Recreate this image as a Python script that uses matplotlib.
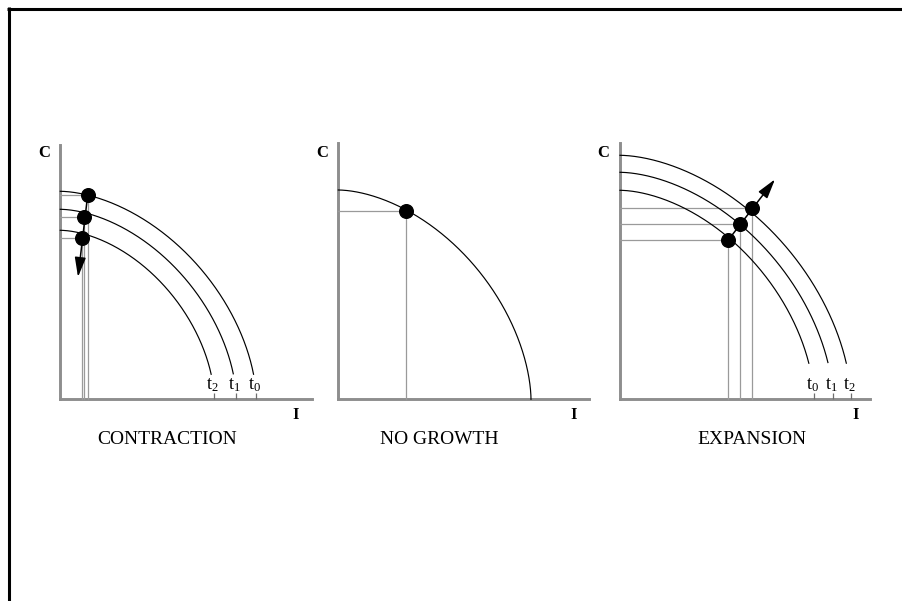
import numpy as np
import matplotlib
matplotlib.use("Agg")
import matplotlib.pyplot as plt
from matplotlib.lines import Line2D

plt.rcParams['font.family'] = ['Liberation Serif', 'DejaVu Serif']
plt.rcParams['mathtext.fontset'] = 'custom'
plt.rcParams['mathtext.rm'] = 'Liberation Serif'
plt.rcParams['mathtext.it'] = 'Liberation Serif:italic'

W, H = 903, 601

# panel data (units: pixels measured from each panel's origin)
titles = ['CONTRACTION', 'NO GROWTH', 'EXPANSION']
origins = [(60.3, 399.3), (338.3, 399.3), (620.0, 399.3)]
y_tops = [254, 256, 256]
x_ends = [252, 251, 250]

# frontier curves, order t0, t1, t2
x_int = [[196, 176, 154], [192.7], [194, 213, 231]]
y_int = [[208, 190, 169], [209.3], [209, 227, 244]]
curve_cut = [25, 0, 36]
curve_tags = [['0', '1', '2'], [], ['0', '1', '2']]

# chosen points on each curve
dot_x = [[27.4, 24.0, 21.4], [67.7], [108.3, 120.0, 131.7]]
dot_y = [[204.3, 182.6, 161.6], [188.3], [159.3, 175.3, 191.7]]

arrow_tip = [(17.7, 122.3), None, (155.0, 220.0)]

title_x = [107, 101, 132]

AXIS_GRAY = '#8e8e8e'
GUIDE_GRAY = '#9a9a9a'
P = 1.75  # superellipse exponent of the frontier

fig = plt.figure(figsize=(W / 100, H / 100), dpi=100)

L, R, B, T = 45, 265, 60, 270
for k in range(3):
    ox, oy = origins[k]
    ax = fig.add_axes([(ox - L) / W, (H - (oy + B)) / H, (L + R) / W, (B + T) / H])
    ax.set_xlim(-L, R)
    ax.set_ylim(-B, T)
    ax.patch.set_visible(False)
    for s in ['top', 'right']:
        ax.spines[s].set_visible(False)
    ax.spines['left'].set_position(('data', 0))
    ax.spines['bottom'].set_position(('data', 0))
    ax.spines['left'].set_bounds(0, y_tops[k])
    ax.spines['bottom'].set_bounds(0, x_ends[k])
    for s in ['left', 'bottom']:
        ax.spines[s].set_color(AXIS_GRAY)
        ax.spines[s].set_linewidth(2.1)
        ax.spines[s].set_zorder(1)
    ax.set_yticks([])
    if curve_tags[k]:
        ax.set_xticks(x_int[k])
        ax.tick_params(axis='x', direction='in', length=4.5, width=0.9,
                       color='#6e6e6e', labelbottom=False)
    else:
        ax.set_xticks([])

    # frontiers
    th = np.linspace(0, np.pi / 2, 400)
    for a, b in zip(x_int[k], y_int[k]):
        cx = a * np.cos(th) ** (2 / P)
        cy = b * np.sin(th) ** (2 / P)
        m = cy >= curve_cut[k]
        ax.plot(cx[m], cy[m], color='black', lw=0.85, zorder=3, clip_on=False)

    # guide lines and points
    for dx, dy in zip(dot_x[k], dot_y[k]):
        ax.plot([0, dx], [dy, dy], color=GUIDE_GRAY, lw=0.9, zorder=2)
        ax.plot([dx, dx], [0, dy], color=GUIDE_GRAY, lw=0.9, zorder=2)
    ax.plot(dot_x[k], dot_y[k], 'o', color='black', ms=9.8, zorder=5,
            clip_on=False)

    if arrow_tip[k] is not None:
        ax.annotate('', xy=arrow_tip[k], xytext=(dot_x[k][0], dot_y[k][0]),
                    arrowprops=dict(arrowstyle='-|>,head_length=0.85,head_width=0.24',
                                    color='black', lw=1.1, mutation_scale=14,
                                    shrinkA=0, shrinkB=0), zorder=4)

    for a, tag in zip(x_int[k], curve_tags[k]):
        ax.text(a - 1.5, 14, r'$\mathrm{t}_{%s}$' % tag, fontsize=13,
                ha='center', va='center')

    ax.text(-16.5, 246, 'C', fontsize=12, fontweight='bold',
            ha='center', va='center')
    ax.text(235.7, -16, 'I', fontsize=12, fontweight='bold',
            ha='center', va='center')
    ax.text(title_x[k], -40.7, titles[k], fontsize=14, ha='center', va='center')

# page frame (top and left edges only)
fig.add_artist(Line2D([7 / W, 1], [1 - 8.5 / H] * 2, lw=2.2, color='black',
                      solid_capstyle='butt'))
fig.add_artist(Line2D([8.5 / W] * 2, [0, 1 - 7 / H], lw=2.2, color='black',
                      solid_capstyle='butt'))

fig.savefig('out.png', dpi=100, facecolor='white')
